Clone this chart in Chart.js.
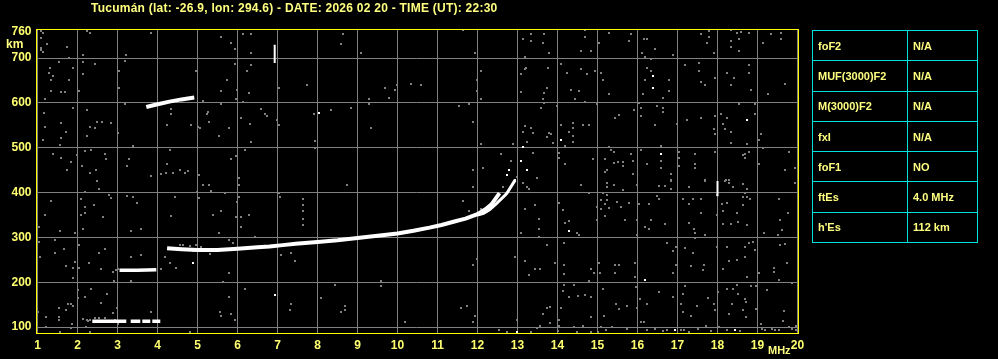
<!DOCTYPE html>
<html>
<head>
<meta charset="utf-8">
<script src="https://cdn.jsdelivr.net/npm/chart.js@4.4.1/dist/chart.umd.min.js"></script>
<style>
body{margin:0;background:#000;width:998px;height:359px;overflow:hidden;position:relative;font-family:"Liberation Sans",Arial,sans-serif;font-weight:bold;color:#ffff80}
#titulo{position:absolute;left:91px;top:1px;font-size:12px;letter-spacing:0.25px;white-space:nowrap}
#km{position:absolute;left:6px;top:37px;font-size:12px}
#mhz{position:absolute;left:768px;top:344px;font-size:11px}
#tabla{position:absolute;left:812px;top:30px;border-collapse:collapse;font-size:11px}
#tabla td{border:1px solid #00e0e0;height:30.3px;padding:0 0 0 5px;box-sizing:border-box}
</style>
</head>
<body>
<canvas id="ionograma" width="998" height="359"></canvas>
<div id="titulo">Tucumán (lat: -26.9, lon: 294.6) - DATE: 2026 02 20 - TIME (UT): 22:30</div>
<div id="km">km</div>
<div id="mhz">MHz</div>
<table id="tabla"></table>
<script>
// ejes
var etiquetasFrec = [1,2,3,4,5,6,7,8,9,10,11,12,13,14,15,16,17,18,19,20];
var etiquetasAltura = [100,200,300,400,500,600,700,760];

// parametros
var parametros = ['foF2','MUF(3000)F2','M(3000)F2','fxI','foF1','ftEs',"h'Es"];
var valores = ['N/A','N/A','N/A','N/A','NO','4.0 MHz','112 km'];

// traza Es (112 km), tramos
var esInicio = [2.37,3.33,3.62,3.87];
var esFin = [3.22,3.57,3.82,4.07];
var esAltura = 113;

// traza a 230 km
var e2Frec = [3.05,3.5,3.97];
var e2Altura = [227,227,228];

// traza a 600 km
var f600Frec = [3.72,3.95,4.3,4.6,4.92];
var f600Altura = [591,596,603,608,612];

// traza F modo ordinario
var oFrec = [4.24,4.6,5.0,5.5,6.0,6.5,6.8,7.13,7.45,8.0,8.5,9.0,9.5,10.0,10.4,10.8,11.1,11.4,11.7,12.0,12.2,12.35,12.55];
var oAltura = [276,274,272,272,275,278,280,283,286,290,294,299,304,309,315,322,328,335,342,352,363,374,399];

// traza F modo extraordinario
var xFrec = [12.0,12.15,12.3,12.48,12.73,12.94];
var xAltura = [350,354,362,376,398,428];

// barras verticales
var barra7 = [[6.93,689],[6.93,730]];
var barra18 = [[18.0,392],[18.0,426]];

// ecos sueltos blancos
var ecos = [[12.73,440],[12.79,451],[13.09,470],[13.13,502],[13.24,451],[12.94,429],
	[16.39,660],[16.39,633],[14.08,517],[18.74,563],[16.58,487],[14.28,314],[16.19,205],
	[16.93,93],[18.44,93],[12.98,90],[4.88,243],[6.93,171],[8.03,578]];

// ruido (gris)
var ruido = [
[1.08,760],[1.13,757],[1.08,745],[1.23,732],[1.09,719],[1.13,714],[1.74,725],[1.78,701],[1.53,692],[1.30,678],
[1.28,666],[1.38,661],[1.34,652],[1.88,678],[2.13,708],[2.13,692],[1.78,652],[1.34,626],[1.59,625],[1.69,625],
[2.03,626],[2.13,665],[2.44,688],[2.24,760],[2.30,757],[3.84,757],[3.20,707],[3.18,693],[3.03,671],[3.03,634],
[3.18,598],[3.02,533],[3.38,503],[3.22,708],[1.15,578],[1.18,546],[1.13,518],[1.59,556],[1.59,522],[1.57,507],
[1.70,535],[1.88,589],[2.23,585],[2.32,546],[2.43,544],[2.49,558],[2.60,558],[2.84,556],[2.24,527],[1.38,486],
[1.59,477],[1.84,468],[1.98,483],[2.10,460],[2.19,494],[2.34,496],[2.72,474],[2.69,486],[2.45,451],[2.30,444],
[1.73,451],[3.24,460],[3.28,474],[4.30,496],[4.23,464],[4.22,444],[4.09,442],[4.38,444],[4.55,451],[4.68,444],
[4.76,448],[3.84,438],[5.03,440],[5.59,748],[5.84,734],[5.94,721],[6.13,754],[6.33,753],[6.33,712],[5.94,688],
[6.23,671],[6.34,684],[5.73,652],[5.59,626],[5.98,630],[6.28,623],[5.97,608],[6.13,602],[5.59,598],[4.95,672],
[5.13,605],[4.84,550],[5.00,547],[5.05,544],[5.53,527],[5.78,544],[6.08,567],[6.30,553],[6.59,587],[6.68,576],
[6.74,570],[5.26,580],[5.23,576],[5.28,558],[6.34,512],[6.18,496],[5.97,481],[5.83,474],[6.03,433],[7.03,634],
[7.03,550],[6.98,563],[4.34,576],[4.23,550],[4.33,587],[1.18,608],[1.09,723],
[2.48,425],[2.53,408],[2.19,402],[1.34,382],[1.19,350],[1.03,324],[1.03,291],[1.05,257],[1.44,265],[1.44,294],
[1.55,315],[1.65,274],[1.70,236],[1.93,309],[1.93,246],[1.88,210],[1.88,231],[2.03,283],[2.03,233],[2.13,319],
[2.19,369],[2.19,354],[2.09,350],[2.09,386],[2.40,373],[2.63,346],[2.78,395],[2.83,387],[3.23,393],[3.38,391],
[3.48,378],[3.34,314],[3.59,319],[2.53,266],[2.69,274],[2.28,244],[2.59,230],[2.88,224],[2.90,204],[3.34,204],
[3.34,256],[3.59,261],[4.09,229],[4.19,256],[4.30,244],[4.34,348],[4.43,391],[4.99,402],[5.03,387],[5.13,417],
[5.28,417],[5.34,404],[5.69,399],[6.03,417],[5.98,380],[6.03,391],[5.38,350],[5.53,309],[5.78,294],[5.88,288],
[6.28,350],[6.09,346],[5.97,346],[6.09,324],[6.44,302],[7.09,261],[7.03,399],[7.05,391],[6.19,186],[5.78,168],
[5.78,221],[5.63,201],[5.93,116],[5.83,129],[5.57,133],[5.59,125],[4.45,232],[4.55,283],[4.63,283],[4.82,282],
[4.97,283],[5.09,279],[5.34,271],[4.88,270],[5.30,263],[1.01,134],[1.20,123],[1.20,101],[1.53,142],[1.53,123],
[1.53,116],[1.72,138],[1.76,151],[1.84,151],[1.88,147],[1.87,107],[2.01,164],[2.01,183],[2.18,168],[2.34,186],
[2.74,175],[2.59,155],[2.98,142],[2.88,131],[2.22,101],[2.30,90],[1.84,99],[1.55,90],[2.13,119],[2.24,116],
[2.43,121],[2.53,121],[2.68,121],[3.01,108],[2.94,116],[3.84,134],[7.30,138],[4.80,90],[5.59,358],
[2.25,113],[2.30,117],[2.97,227],[3.0,229],
[8.63,753],[8.58,731],[9.08,712],[11.63,762],[11.94,712],[13.13,742],[13.33,753],[13.33,739],[13.63,734],[13.65,753],
[13.19,703],[13.22,678],[13.19,675],[13.09,665],[12.09,672],[11.98,652],[11.98,626],[12.09,608],[13.09,625],[13.67,623],
[13.63,608],[13.67,600],[13.58,589],[7.73,639],[9.69,634],[9.94,630],[9.98,639],[10.33,643],[10.58,639],[9.78,611],
[9.29,608],[9.29,598],[8.84,589],[8.34,585],[7.90,576],[11.54,594],[11.79,598],[11.88,558],[13.19,548],[13.33,544],
[13.13,535],[13.38,533],[13.23,512],[12.88,509],[12.09,509],[12.58,486],[12.83,471],[13.38,489],[7.93,516],[7.94,500],
[9.33,544],[11.88,451],[12.13,455],[13.48,433],[12.98,436],
[8.73,417],[11.88,413],[12.63,413],[13.23,413],[13.28,408],[13.13,422],[11.63,381],[13.44,373],[13.19,364],[13.53,341],
[13.54,319],[13.54,302],[13.08,311],[12.94,257],[13.19,247],[13.44,230],[13.57,230],[13.28,216],[11.98,252],[11.88,239],
[7.63,386],[7.63,373],[7.63,358],[7.63,341],[7.63,328],[7.33,266],[7.43,248],[9.58,203],[9.58,192],[8.44,194],
[8.08,164],[7.33,151],[8.69,147],[8.69,138],[8.58,134],[10.19,111],[11.58,143],[11.73,147],[11.94,125],[11.88,111],
[12.98,116],[13.63,129],[13.57,102],[13.48,99],[12.54,93],[12.73,90],[13.33,90],[11.79,359],[12.09,364],[7.55,287],
[14.69,762],[15.29,757],[15.84,753],[15.78,738],[16.15,743],[16.23,743],[16.44,721],[16.11,712],[16.19,703],[16.34,699],
[16.88,708],[17.58,753],[17.78,760],[17.78,747],[17.73,734],[17.90,712],[18.33,762],[18.48,757],[18.59,759],[18.79,757],
[18.33,738],[18.33,725],[18.53,717],[18.54,743],[19.13,734],[19.34,753],[19.59,757],[19.59,743],[14.69,748],[15.03,734],
[14.83,717],[14.59,717],[13.79,712],[14.09,688],[13.76,678],[14.24,666],[14.59,675],[14.74,664],[14.94,671],[15.09,666],
[15.13,652],[14.34,630],[14.53,626],[15.29,621],[13.73,634],[14.44,608],[14.68,602],[13.98,594],[14.98,598],[16.04,600],
[16.23,678],[16.34,671],[16.19,652],[16.79,652],[16.13,621],[16.79,626],[16.63,610],[17.19,684],[17.54,690],[17.54,671],
[17.58,647],[17.69,639],[17.94,656],[18.23,666],[18.40,656],[18.33,639],[18.79,684],[18.79,666],[18.84,630],[19.69,643],
[19.26,621],[18.54,598],[18.94,598],[15.90,585],[15.54,574],[15.44,567],[16.09,589],[16.09,572],[16.48,594],[16.63,589],
[16.63,580],[16.44,550],[16.98,554],[17.24,563],[17.58,567],[17.94,572],[18.09,576],[18.23,567],[18.13,553],[18.19,541],
[18.33,535],[17.90,541],[17.94,531],[18.33,511],[18.73,509],[18.94,576],[19.09,531],[19.04,518],[19.13,500],[14.38,556],
[14.38,544],[14.09,550],[14.29,535],[14.63,550],[14.79,550],[14.38,527],[14.38,513],[13.79,533],[13.84,531],[13.73,524],
[13.88,511],[14.19,505],[14.03,489],[14.03,477],[14.19,464],[14.88,474],[15.29,502],[15.34,495],[15.40,491],[15.19,474],
[15.40,466],[15.50,469],[15.63,469],[15.63,460],[15.84,486],[15.89,470],[16.23,463],[16.09,495],[16.59,503],[16.59,471],
[16.59,455],[16.84,442],[17.03,491],[17.03,477],[17.04,460],[17.44,486],[17.44,464],[17.44,455],[17.94,491],[18.63,483],
[18.69,486],[18.69,477],[18.79,491],[19.04,463],[19.69,451],[19.79,491],[19.94,455],[18.21,429],[18.29,429],[17.69,429],
[16.84,429],[15.23,451],[15.19,446],[15.88,442],
[14.59,417],[15.23,422],[15.23,413],[15.40,417],[15.63,405],[15.98,417],[16.54,415],[16.69,415],[16.84,425],[16.84,408],
[17.29,413],[17.69,425],[18.18,425],[18.29,422],[18.38,412],[18.63,419],[18.73,408],[19.94,422],[14.78,399],[15.13,399],
[15.23,395],[15.09,384],[15.23,384],[15.19,374],[15.09,363],[15.28,365],[15.48,380],[15.58,369],[15.79,376],[16.04,375],
[15.68,338],[15.19,348],[14.98,339],[14.98,369],[14.13,361],[14.03,378],[14.19,333],[14.29,337],[14.49,309],[14.53,306],
[15.98,338],[15.98,306],[16.34,339],[16.29,374],[16.19,324],[16.29,318],[16.48,393],[16.54,386],[16.69,329],[17.13,386],
[17.28,374],[17.29,333],[17.38,385],[17.58,386],[17.58,355],[17.40,318],[17.43,309],[17.44,298],[17.69,306],[17.98,395],
[17.98,350],[18.11,374],[18.23,376],[18.13,358],[18.14,329],[18.33,329],[18.48,354],[18.51,334],[18.63,391],[18.68,399],
[18.73,391],[18.82,386],[18.73,328],[18.63,373],[19.53,386],[19.57,338],[19.61,317],[19.15,311],[19.50,306],[19.75,355],
[13.73,283],[14.15,287],[13.93,244],[14.15,239],[14.15,218],[14.84,229],[15.03,244],[14.90,221],[15.05,221],[15.44,239],
[15.54,239],[15.44,221],[15.93,244],[15.94,212],[16.73,288],[16.88,270],[16.97,279],[16.97,239],[16.88,220],[17.19,276],
[17.38,266],[17.33,236],[17.65,239],[17.63,227],[17.98,279],[18.13,230],[18.23,279],[18.29,247],[18.48,250],[18.69,256],
[18.69,279],[18.78,288],[18.88,291],[18.94,272],[18.73,212],[19.40,233],[19.40,224],[19.57,283],[19.69,285],[19.73,244],
[19.03,221],[19.53,205],[19.86,198],[14.78,204],[14.40,194],[14.15,194],[14.13,181],[14.29,168],[14.51,170],[14.69,172],
[14.83,168],[15.13,186],[15.97,190],[15.47,151],[15.54,140],[15.73,147],[15.98,142],[16.05,163],[16.23,151],[16.54,179],
[16.88,168],[17.13,174],[17.18,192],[17.09,151],[17.13,134],[17.33,125],[17.48,147],[17.75,166],[17.92,151],[17.94,138],
[18.01,179],[18.23,186],[18.29,129],[18.36,151],[18.38,186],[18.48,195],[18.50,175],[18.68,163],[18.72,157],[18.63,138],
[18.72,123],[18.84,192],[18.96,192],[18.97,140],[19.23,183],[19.09,108],[19.65,137],[19.63,114],[13.82,145],[13.73,142],
[14.09,143],[14.03,116],[13.82,110],[14.40,101],[14.63,103],[14.83,122],[15.09,101],[15.21,93],[15.15,125],[15.36,101],
[15.73,97],[16.09,112],[16.15,112],[16.23,93],[16.43,97],[16.63,92],[16.74,93],[17.09,93],[17.17,93],[17.28,90],
[17.51,97],[17.72,103],[17.83,92],[18.03,101],[18.23,93],[18.57,92],[19.11,97],[19.19,93],[19.36,97],[19.44,93],
[19.53,93],[19.78,101],[19.86,97],[19.96,103],[19.96,93],[14.03,103],[14.00,92],[14.49,90],[14.83,90],[15.00,90]
];

function fntPares(frecs, alturas) {
	let puntos = [];
	for (let i = 0; i < frecs.length; i++) {
		puntos.push({x: frecs[i], y: Array.isArray(alturas) ? alturas[i] : alturas});
	}
	return puntos;
}
function fntLista(pares) {
	return pares.map(function (p) { return {x: p[0], y: p[1]}; });
}
function fntLinea(datos, ancho) {
	return {data: datos, showLine: true, borderColor: '#ffffff', borderWidth: ancho,
		pointRadius: 0, borderCapStyle: 'butt', borderJoinStyle: 'miter', tension: 0, order: 0};
}
// punto cuadrado de 2x2 px
function fntPixel(color) {
	var c = document.createElement('canvas');
	c.width = 2;
	c.height = 2;
	var g = c.getContext('2d');
	g.fillStyle = color;
	g.fillRect(0, 0, 2, 2);
	return c;
}

document.addEventListener('DOMContentLoaded', function () {
	fntTabla();
	fntIonograma();
});

function fntTabla() {
	var tabla = document.getElementById('tabla');
	for (let i = 0; i < parametros.length; i++) {
		var fila = tabla.insertRow();
		var c1 = fila.insertCell();
		c1.style.width = '95px';
		c1.textContent = parametros[i];
		var c2 = fila.insertCell();
		c2.style.width = '70px';
		c2.textContent = valores[i];
	}
}

function fntIonograma() {
	var trazas = [];
	for (let i = 0; i < esInicio.length; i++) {
		trazas.push(fntLinea(fntPares([esInicio[i], esFin[i]], esAltura), 3.5));
	}
	trazas.push(fntLinea(fntPares(e2Frec, e2Altura), 3.5));
	trazas.push(fntLinea(fntPares(f600Frec, f600Altura), 4));
	trazas.push(fntLinea(fntPares(oFrec, oAltura), 4));
	trazas.push(fntLinea(fntPares(xFrec, xAltura), 3));
	trazas.push(fntLinea(fntLista(barra7), 2));
	trazas.push(fntLinea(fntLista(barra18), 2));
	trazas.push({data: fntLista(ecos), pointStyle: fntPixel('#ffffff'), pointRadius: 1, borderWidth: 0, order: 1});
	trazas.push({data: fntLista(ruido), pointStyle: fntPixel('#808080'), pointRadius: 1, borderWidth: 0, order: 5});

	var fuente = {family: 'Liberation Sans', weight: 'bold', size: 12};
	var marco = {
		id: 'marco',
		beforeDatasetsDraw: function (chart) {
			chart.ctx.imageSmoothingEnabled = false;
		},
		afterDraw: function (chart) {
			var a = chart.chartArea;
			var ctx = chart.ctx;
			ctx.save();
			ctx.strokeStyle = '#ffff00';
			ctx.lineWidth = 1;
			ctx.strokeRect(Math.round(a.left) + 0.5, Math.round(a.top) + 0.5, Math.round(a.right - a.left), Math.round(a.bottom - a.top));
			ctx.restore();
		}
	};

	new Chart(document.getElementById('ionograma'), {
		type: 'scatter',
		data: {datasets: trazas},
		options: {
			responsive: false,
			animation: false,
			layout: {padding: {top: 29, left: 0, right: 200.5, bottom: 0}},
			plugins: {legend: {display: false}, tooltip: {enabled: false}},
			scales: {
				x: {
					type: 'linear', min: 0.95, max: 20,
					afterBuildTicks: function (s) { s.ticks = etiquetasFrec.map(function (v) { return {value: v}; }); },
					afterFit: function (s) { s.height = 26; },
					ticks: {color: '#ffff70', font: fuente, padding: 5, maxRotation: 0, autoSkip: false},
					grid: {color: '#808080', lineWidth: 1, drawTicks: false},
					border: {display: false}
				},
				y: {
					type: 'linear', min: 87, max: 765,
					afterBuildTicks: function (s) { s.ticks = etiquetasAltura.map(function (v) { return {value: v}; }); },
					afterFit: function (s) { s.width = 35.5; },
					ticks: {color: '#ffff70', font: fuente, padding: 4, autoSkip: false},
					grid: {
						color: function (c) { return c.tick && c.tick.value == 760 ? 'rgba(0,0,0,0)' : '#808080'; },
						lineWidth: 1, drawTicks: false
					},
					border: {display: false}
				}
			}
		},
		plugins: [marco]
	});
}
</script>
</body>
</html>
